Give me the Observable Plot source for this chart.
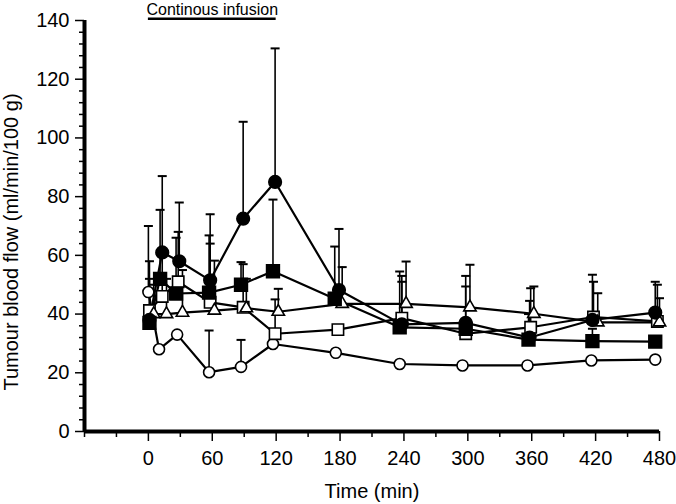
<!DOCTYPE html>
<html><head><meta charset="utf-8">
<script src="https://cdn.jsdelivr.net/npm/d3@7"></script>
<script src="https://cdn.jsdelivr.net/npm/@observablehq/plot@0.6"></script>
<style>body{margin:0;background:#fff;}</style>
</head><body><div id="chart"></div>
<script>
// Tick values
const xMajorTicks = [0, 60, 120, 180, 240, 300, 360, 420, 480];
const xMinorTicks = [-60, -30, 30, 90, 150, 210, 270, 330, 390, 450];
const yMajorTicks = [0, 20, 40, 60, 80, 100, 120, 140];
const yMinorTicks = [4, 8, 12, 16, 24, 28, 32, 36, 44, 48, 52, 56, 64, 68, 72, 76, 84, 88, 92, 96, 104, 108, 112, 116, 124, 128, 132, 136];

// Series: open circles
const openCircleTime  = [0, 10, 27, 57, 87, 117, 176, 236, 295, 356, 416, 476];
const openCircleValue = [47.5, 28, 33, 20.2, 22, 29.8, 26.8, 23, 22.5, 22.5, 24.2, 24.5];
const openCircleUpper = [70, null, null, 34.4, 31.2, null, null, null, null, null, null, null];

// Series: filled circles
const filledCircleTime  = [1, 13, 29, 58, 89, 119, 179, 238, 298, 358, 417, 476];
const filledCircleValue = [38, 61, 58, 51.5, 72.5, 85, 48.2, 36.5, 37, 32, 38, 40.5];
const filledCircleUpper = [null, 87, 78, 74, 105.5, 130.5, 69, 51, 53, 44.5, 53.4, 51];

// Series: filled squares
const filledSquareTime  = [1, 11, 26, 57, 87, 117, 175, 236, 298, 357, 417, 476];
const filledSquareValue = [37, 52, 47, 47.3, 50, 54.6, 45.2, 35.5, 35, 31.3, 30.8, 30.6];
const filledSquareUpper = [52, 75.5, 66, 66.8, 57.7, 79, 63, 54.5, null, 40, 35, null];

// Series: open squares
const openSquareTime  = [1, 13, 28, 58, 89, 119, 178, 238, 298, 359, 418, 478];
const openSquareValue = [41.2, 46, 51, 44, 42.3, 33.3, 34.7, 38.6, 33.3, 35.5, 39, 37.5];
const openSquareUpper = [58, 62, 68, 64, 57, 45, null, 53, 49.4, 48.8, 51, 50];

// Series: open triangles
const triangleTime  = [5, 17, 32, 62, 92, 122, 182, 242, 302, 362, 422, 480];
const triangleValue = [40, 40, 40.5, 41.2, 42, 40.8, 43.5, 43.5, 42.3, 40.1, 37.2, 37.2];
const triangleUpper = [50, 52, 55, 58.2, 52, 48.6, 56, 57.9, 56.8, 49.4, 47.1, 45.4];

const infusionStart = 0, infusionEnd = 120, infusionLevel = 140.6;
const infusionLabel = "Continous infusion";
const xLabel = "Time (min)";
const yLabel = "Tumour blood flow (ml/min/100 g)";

function rows(name, times, values, uppers) {
  return times.map((t, i) => ({series: name, t, v: values[i], up: uppers[i]}));
}
const seriesDefs = [
  {name: "openCircle", rows: rows("openCircle", openCircleTime, openCircleValue, openCircleUpper), symbol: "circle", fill: "white", r: 5.5},
  {name: "openSquare", rows: rows("openSquare", openSquareTime, openSquareValue, openSquareUpper), symbol: "square", fill: "white", r: 6.4},
  {name: "triangle", rows: rows("triangle", triangleTime, triangleValue, triangleUpper), symbol: "triangle", fill: "white", r: 4.6},
  {name: "filledSquare", rows: rows("filledSquare", filledSquareTime, filledSquareValue, filledSquareUpper), symbol: "square", fill: "black", r: 7.2},
  {name: "filledCircle", rows: rows("filledCircle", filledCircleTime, filledCircleValue, filledCircleUpper), symbol: "circle", fill: "black", r: 6.3}
];
const allRows = seriesDefs.flatMap(s => s.rows);
const errRows = allRows.filter(d => d.up != null);

const capSymbol = {draw(ctx, size) { const w = 4.5; ctx.moveTo(-w, 0); ctx.lineTo(w, 0); }};

const font = "'Liberation Sans', Arial, Helvetica, sans-serif";

const marks = [
  Plot.ruleX(errRows, {x: "t", y1: "v", y2: "up", stroke: "black", strokeWidth: 1.6}),
  Plot.dot(errRows, {x: "t", y: "up", symbol: capSymbol, stroke: "black", strokeWidth: 2, r: 4}),
  Plot.line(allRows, {x: "t", y: "v", z: "series", stroke: "black", strokeWidth: 2.2}),
  ...seriesDefs.map(s => Plot.dot(s.rows, {x: "t", y: "v", symbol: s.symbol, fill: s.fill, stroke: "black", strokeWidth: 1.6, r: s.r})),
  Plot.axisY({ticks: yMinorTicks, tickSize: 5, tickFormat: () => "", label: null, strokeWidth: 1.5}),
  Plot.axisY({ticks: yMajorTicks, tickSize: 9, tickPadding: 6, label: null, fontSize: 20, strokeWidth: 1.5}),
  Plot.axisX({ticks: xMinorTicks, tickSize: 6, tickFormat: () => "", label: null, strokeWidth: 1.5}),
  Plot.axisX({ticks: xMajorTicks, tickSize: 10, tickPadding: 9, label: null, fontSize: 20, strokeWidth: 1.5}),
  Plot.ruleY([0], {stroke: "black", strokeWidth: 4}),
  Plot.ruleX([-60], {stroke: "black", strokeWidth: 4}),
  Plot.ruleY([{y: infusionLevel, x1: infusionStart, x2: infusionEnd}], {y: "y", x1: "x1", x2: "x2", stroke: "black", strokeWidth: 2.5}),
  Plot.text([{x: (infusionStart + infusionEnd) / 2, y: infusionLevel, label: infusionLabel}], {x: "x", y: "y", text: "label", dy: -4, lineAnchor: "bottom", fontSize: 16, fill: "black"}),
  Plot.text([xLabel], {frameAnchor: "bottom", dy: 66, fontSize: 20, fill: "black"}),
  Plot.text([yLabel], {frameAnchor: "left", textAnchor: "middle", rotate: -90, dx: -73, dy: 16, fontSize: 20, fill: "black"})
];

const chart = Plot.plot({
  width: 676,
  height: 504,
  marginLeft: 84,
  marginRight: 17,
  marginTop: 20,
  marginBottom: 73,
  x: {domain: [-60, 480]},
  y: {domain: [0, 140]},
  style: {fontFamily: font, fontSize: "20px", background: "white", color: "black", overflow: "visible"},
  marks
});
document.getElementById("chart").appendChild(chart);
</script>
</body></html>
